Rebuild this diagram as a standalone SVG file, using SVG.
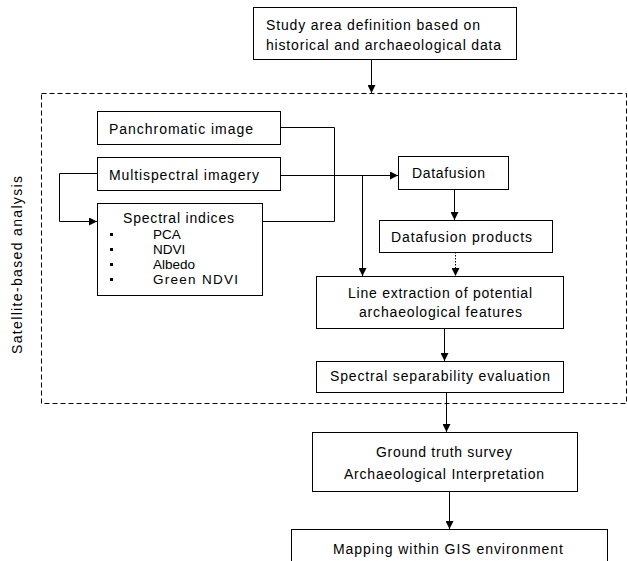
<svg xmlns="http://www.w3.org/2000/svg" width="628" height="561" viewBox="0 0 628 561">
<style>
.box{fill:#fff;stroke:#000;stroke-width:1}
.dash{fill:none;stroke:#000;stroke-width:1;stroke-dasharray:5,3}
.ln{fill:none;stroke:#000;stroke-width:1}
.dot{fill:none;stroke:#000;stroke-width:1;stroke-dasharray:1.5,1.5}
text{font-family:"Liberation Sans",Arial,sans-serif;font-size:14px;fill:#000}
.li{font-size:13.5px}
</style>
<defs>
<marker id="ah" viewBox="0 0 8 8" refX="8" refY="4" markerWidth="8" markerHeight="8" markerUnits="userSpaceOnUse" orient="auto">
<path d="M0,0 L8,4 L0,8 z" fill="#000"/>
</marker>
</defs>
<rect class="dash" x="41.5" y="93.5" width="585" height="310"/>
<text transform="translate(22,265) rotate(-90)" text-anchor="middle" textLength="178" lengthAdjust="spacing">Satellite-based analysis</text>
<g id="connectors">
<path class="ln" d="M371.5,59 V93" marker-end="url(#ah)"/>
<path class="ln" d="M280,127.5 H334.5 V221.5 H262"/>
<path class="ln" d="M280,175.5 H398" marker-end="url(#ah)"/>
<path class="ln" d="M97,173.5 H59.5 V221.5 H97" marker-end="url(#ah)"/>
<path class="ln" d="M362.5,175.5 V276" marker-end="url(#ah)"/>
<path class="ln" d="M454.5,189 V220" marker-end="url(#ah)"/>
<path class="dot" d="M455.5,252 V276" marker-end="url(#ah)"/>
<path class="ln" d="M444.5,328 V361" marker-end="url(#ah)"/>
<path class="ln" d="M446.5,392 V432" marker-end="url(#ah)"/>
<path class="ln" d="M449.5,491 V529" marker-end="url(#ah)"/>
</g>
<g id="study">
<rect class="box" x="253.5" y="7.5" width="263" height="52"/>
<text x="266" y="30" textLength="214" lengthAdjust="spacing">Study area definition based on</text>
<text x="266" y="50" textLength="235" lengthAdjust="spacing">historical and archaeological data</text>
</g>
<g id="pan">
<rect class="box" x="97.5" y="111.5" width="183" height="33"/>
<text x="109" y="134" textLength="144" lengthAdjust="spacing">Panchromatic image</text>
</g>
<g id="multi">
<rect class="box" x="97.5" y="157.5" width="183" height="33"/>
<text x="109" y="180" textLength="150" lengthAdjust="spacing">Multispectral imagery</text>
</g>
<g id="indices">
<rect class="box" x="97.5" y="203.5" width="165" height="92"/>
<text x="123" y="223" textLength="111" lengthAdjust="spacing">Spectral indices</text>
<rect x="110" y="233" width="3" height="3"/>
<rect x="110" y="248" width="3" height="3"/>
<rect x="110" y="263" width="3" height="3"/>
<rect x="110" y="278" width="3" height="3"/>
<text class="li" x="153" y="239">PCA</text>
<text class="li" x="153" y="254">NDVI</text>
<text class="li" x="153" y="269">Albedo</text>
<text class="li" x="153" y="284" textLength="85" lengthAdjust="spacing">Green NDVI</text>
</g>
<g id="datafusion">
<rect class="box" x="398.5" y="156.5" width="110" height="33"/>
<text x="412" y="178" textLength="73" lengthAdjust="spacing">Datafusion</text>
</g>
<g id="products">
<rect class="box" x="379.5" y="220.5" width="173" height="32"/>
<text x="391" y="242" textLength="141" lengthAdjust="spacing">Datafusion products</text>
</g>
<g id="lineext">
<rect class="box" x="316.5" y="276.5" width="247" height="52"/>
<text x="348" y="298" textLength="184" lengthAdjust="spacing">Line extraction of potential</text>
<text x="359" y="317" textLength="163" lengthAdjust="spacing">archaeological features</text>
</g>
<g id="separability">
<rect class="box" x="316.5" y="361.5" width="247" height="31"/>
<text x="330" y="381" textLength="220" lengthAdjust="spacing">Spectral separability evaluation</text>
</g>
<g id="ground">
<rect class="box" x="312.5" y="432.5" width="265" height="59"/>
<text x="376" y="457" textLength="136" lengthAdjust="spacing">Ground truth survey</text>
<text x="344" y="479" textLength="200" lengthAdjust="spacing">Archaeological Interpretation</text>
</g>
<g id="mapping">
<rect class="box" x="291.5" y="529.5" width="316" height="40"/>
<text x="333" y="554" textLength="230" lengthAdjust="spacing">Mapping within GIS environment</text>
</g>
</svg>
